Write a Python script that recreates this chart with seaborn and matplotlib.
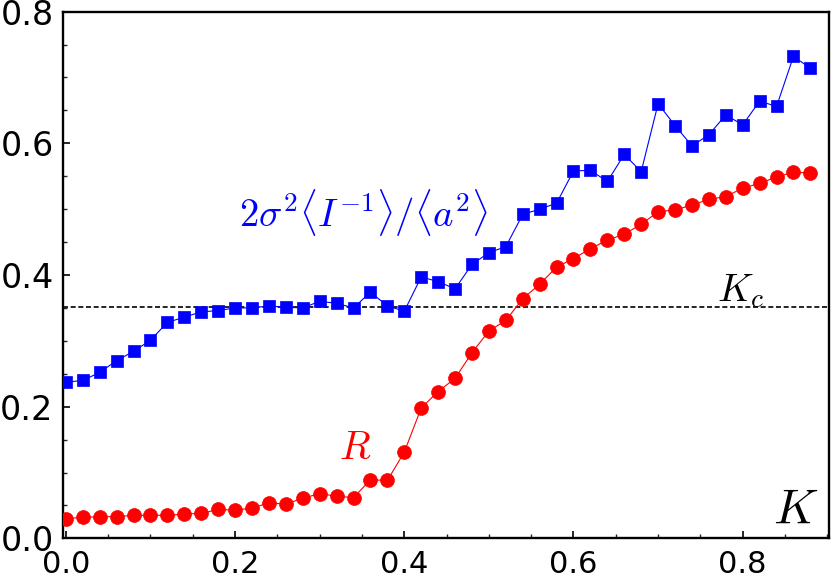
import numpy as np
import pandas as pd
import seaborn as sns
import matplotlib.pyplot as plt
from matplotlib.ticker import MultipleLocator, FormatStrFormatter

sns.set_theme(style="ticks")
plt.rcParams['font.family'] = ['DejaVu Sans']
plt.rcParams['mathtext.fontset'] = 'cm'

# coupling strength K
K = [0.00, 0.02, 0.04, 0.06, 0.08, 0.10, 0.12, 0.14, 0.16, 0.18,
     0.20, 0.22, 0.24, 0.26, 0.28, 0.30, 0.32, 0.34, 0.36, 0.38,
     0.40, 0.42, 0.44, 0.46, 0.48, 0.50, 0.52, 0.54, 0.56, 0.58,
     0.60, 0.62, 0.64, 0.66, 0.68, 0.70, 0.72, 0.74, 0.76, 0.78,
     0.80, 0.82, 0.84, 0.86, 0.88]

# 2 sigma^2 <I^-1> / <a^2>
ratio = [0.237, 0.240, 0.252, 0.270, 0.284, 0.301, 0.328, 0.336, 0.344, 0.346,
         0.350, 0.350, 0.353, 0.351, 0.350, 0.360, 0.357, 0.350, 0.374, 0.353,
         0.345, 0.397, 0.390, 0.379, 0.416, 0.434, 0.443, 0.492, 0.500, 0.509,
         0.558, 0.559, 0.542, 0.583, 0.557, 0.660, 0.627, 0.596, 0.613, 0.643,
         0.628, 0.664, 0.656, 0.732, 0.714]

# order parameter R
R = [0.030, 0.032, 0.033, 0.033, 0.035, 0.035, 0.035, 0.037, 0.038, 0.044,
     0.043, 0.046, 0.054, 0.052, 0.061, 0.068, 0.064, 0.062, 0.089, 0.088,
     0.131, 0.198, 0.223, 0.243, 0.282, 0.315, 0.331, 0.364, 0.386, 0.412,
     0.425, 0.440, 0.453, 0.462, 0.477, 0.496, 0.499, 0.506, 0.515, 0.519,
     0.532, 0.539, 0.549, 0.556, 0.555]

K_c = 0.352

df = pd.DataFrame({"K": K, "ratio": ratio, "R": R})

fig = plt.figure(figsize=(8.31, 5.77), dpi=100)
ax = fig.add_axes([0.0762, 0.0669, 0.9214, 0.913])

ax.axhline(K_c, color="black", lw=1.2, ls=(0, (3, 1.6)), zorder=1)

sns.lineplot(data=df, x="K", y="ratio", ax=ax, color="#0000ff", lw=0.8,
             marker="s", markersize=8, markeredgecolor="#0000ff", markeredgewidth=0.5, zorder=3)
sns.lineplot(data=df, x="K", y="R", ax=ax, color="#ff0000", lw=0.8,
             marker="o", markersize=10, markeredgecolor="#ff0000", markeredgewidth=0.5, zorder=3)

ax.set_xlim(-0.003, 0.902)
ax.set_ylim(0, 0.8)
ax.set_xlabel("")
ax.set_ylabel("")

ax.xaxis.set_major_locator(MultipleLocator(0.2))
ax.xaxis.set_minor_locator(MultipleLocator(0.05))
ax.yaxis.set_major_locator(MultipleLocator(0.2))
ax.yaxis.set_minor_locator(MultipleLocator(0.05))
ax.xaxis.set_major_formatter(FormatStrFormatter("%.1f"))
ax.yaxis.set_major_formatter(FormatStrFormatter("%.1f"))
ax.tick_params(which="major", direction="in", length=5, width=1.2, colors="black")
ax.tick_params(axis="y", which="major", pad=7, labelsize=24)
ax.tick_params(axis="x", which="major", pad=8, labelsize=22)
ax.tick_params(which="minor", direction="in", length=3, width=1.0)
ax.tick_params(top=False, right=False, which="both")
for s in ax.spines.values():
    s.set_linewidth(1.7)
    s.set_color("black")

fig.canvas.draw()
ax.get_yticklabels()[0].set_va("bottom")

ax.text(0.352, 0.493, r"$2\sigma^2\langle I^{-1}\rangle/\langle a^2\rangle$", color="#0000ff",
        fontsize=28, ha="center", va="center")
ax.text(0.342, 0.138, r"$R$", color="#ff0000", fontsize=29, ha="center", va="center")
ax.text(0.797, 0.375, r"$K_c$", color="black", fontsize=28, ha="center", va="center")
ax.text(0.862, 0.045, r"$K$", color="black", fontsize=35, ha="center", va="center")

fig.savefig("out.png", dpi=100)
